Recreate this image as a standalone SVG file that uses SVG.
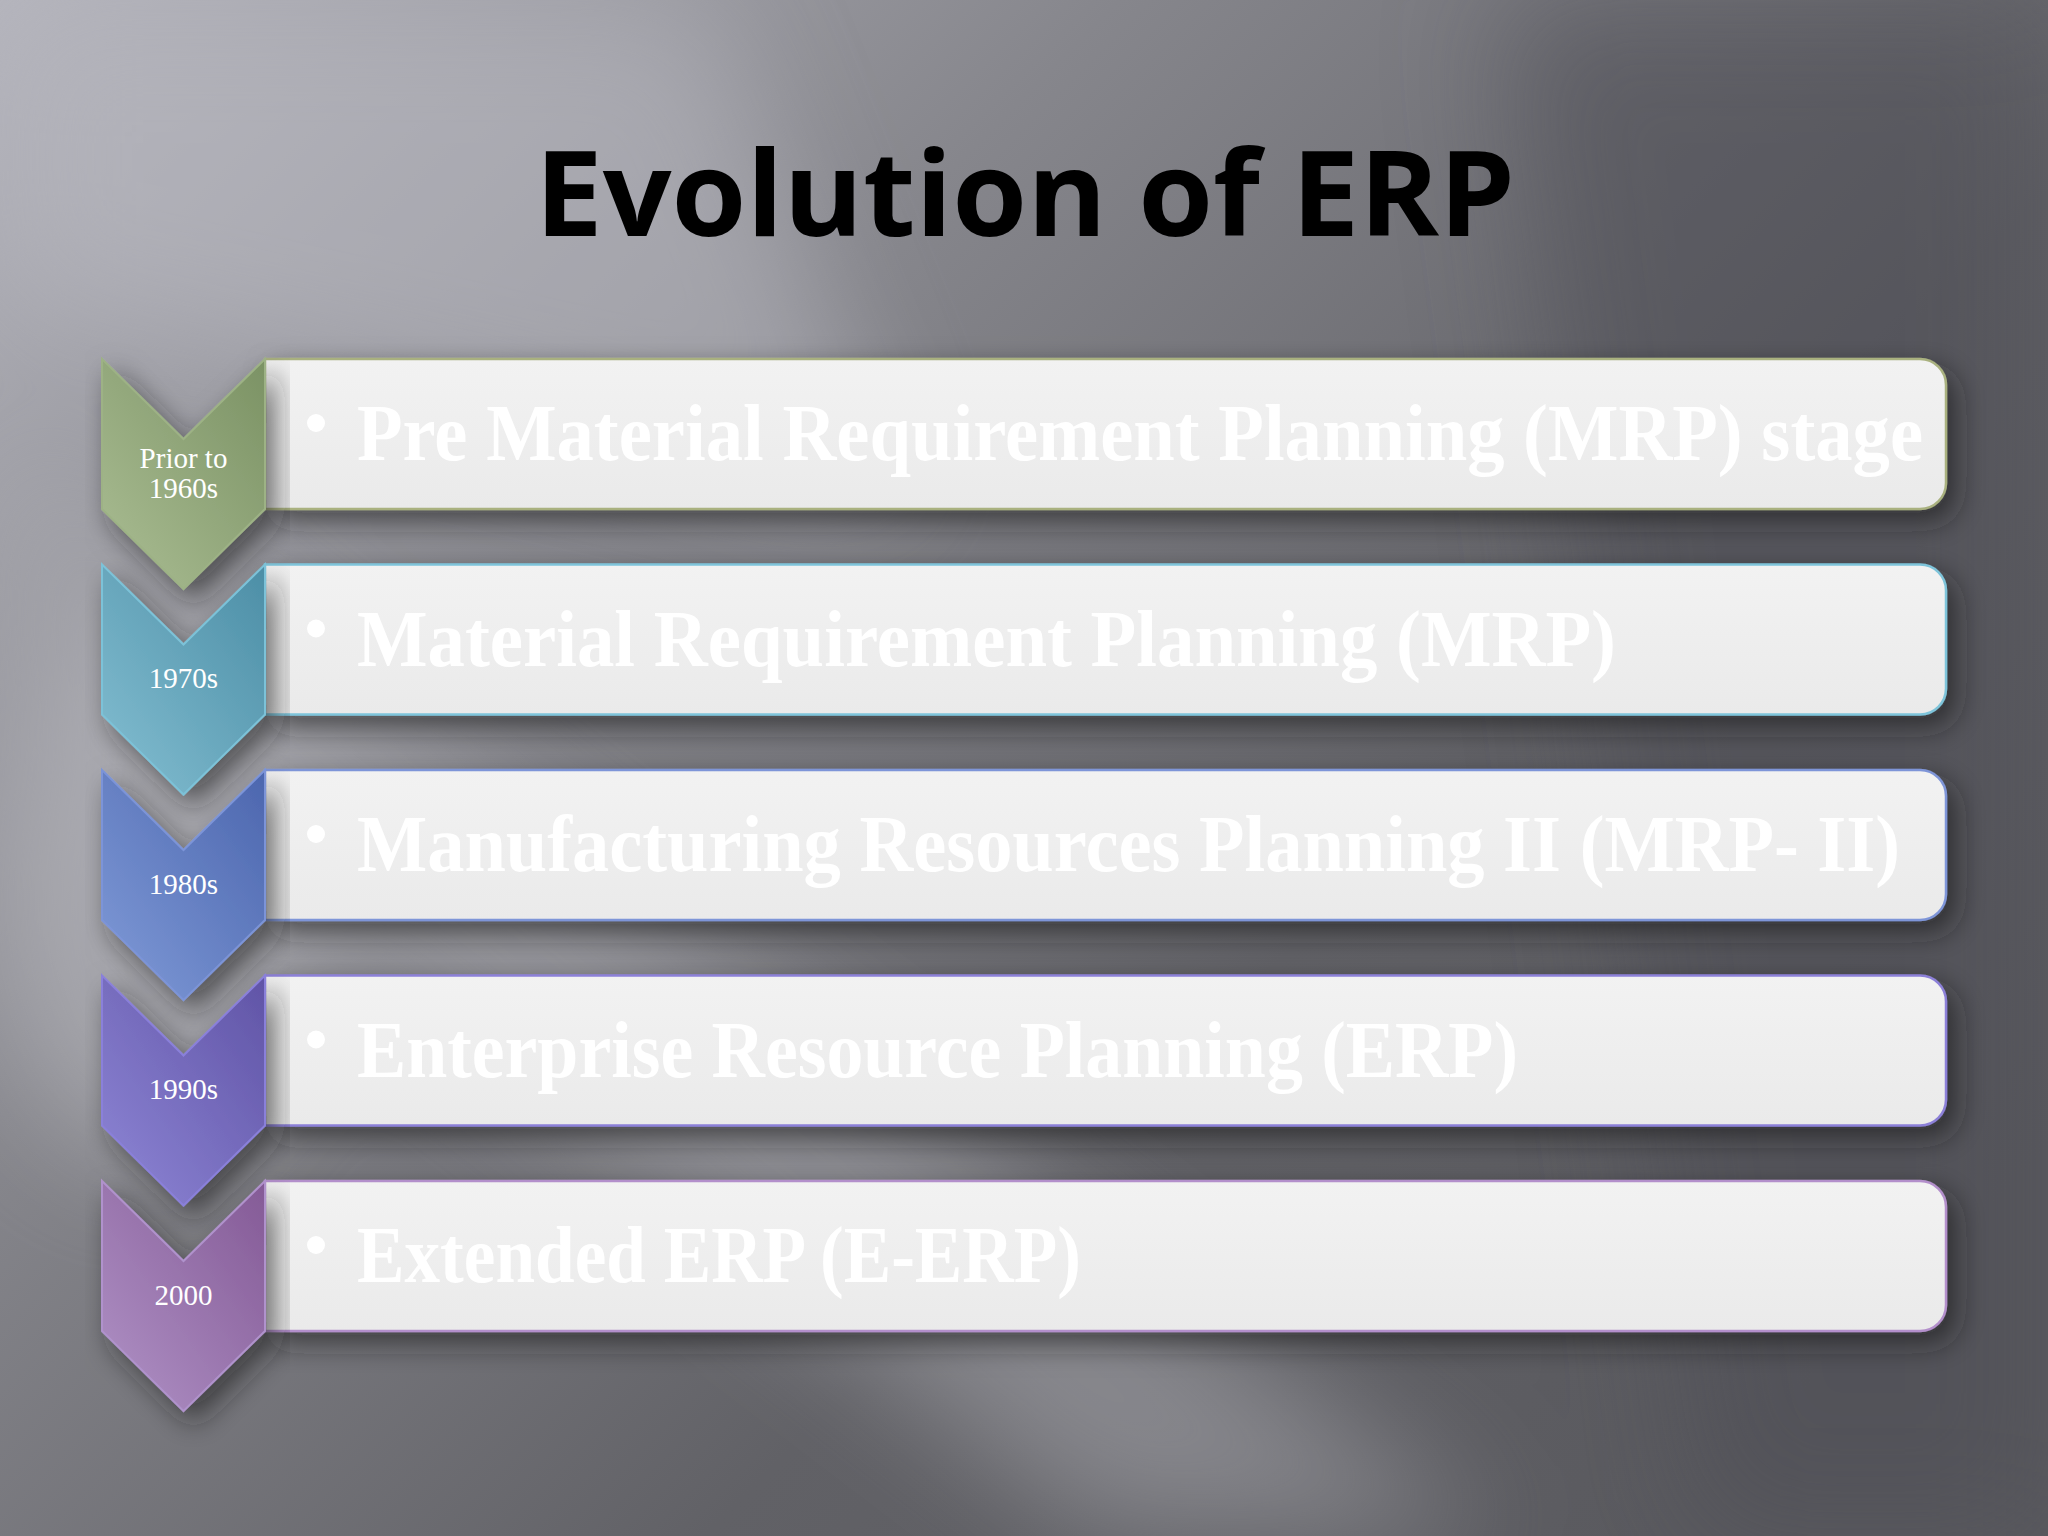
<svg xmlns="http://www.w3.org/2000/svg" width="2048" height="1536" viewBox="0 0 2048 1536">
<defs>
<linearGradient id="bg" x1="0" y1="0" x2="1" y2="0.75">
<stop offset="0" stop-color="#B4B4BC"/>
<stop offset="0.35" stop-color="#86868C"/>
<stop offset="0.7" stop-color="#616166"/>
<stop offset="1" stop-color="#5A5A5F"/>
</linearGradient>
<filter id="blur60" x="-50%" y="-50%" width="200%" height="200%"><feGaussianBlur stdDeviation="60"/></filter>
<filter id="shadow" x="-10%" y="-20%" width="125%" height="160%">
<feDropShadow dx="10" dy="12" stdDeviation="14" flood-color="#1E1E22" flood-opacity="0.6"/>
</filter>
<linearGradient id="boxfill" x1="0" y1="0" x2="0" y2="1">
<stop offset="0" stop-color="#F2F2F2"/>
<stop offset="1" stop-color="#EAEAEA"/>
</linearGradient>
<linearGradient id="c1" x1="0" y1="1" x2="1" y2="0"><stop offset="0" stop-color="#ABBE94"/><stop offset="1" stop-color="#7B9264"/></linearGradient>
<linearGradient id="c2" x1="0" y1="1" x2="1" y2="0"><stop offset="0" stop-color="#84BFD2"/><stop offset="1" stop-color="#4C8EA6"/></linearGradient>
<linearGradient id="c3" x1="0" y1="1" x2="1" y2="0"><stop offset="0" stop-color="#809BD8"/><stop offset="1" stop-color="#4C66AE"/></linearGradient>
<linearGradient id="c4" x1="0" y1="1" x2="1" y2="0"><stop offset="0" stop-color="#8E86D6"/><stop offset="1" stop-color="#6054A6"/></linearGradient>
<linearGradient id="c5" x1="0" y1="1" x2="1" y2="0"><stop offset="0" stop-color="#B092C6"/><stop offset="1" stop-color="#845A96"/></linearGradient>
</defs>
<style>
.box{fill:url(#boxfill);stroke-width:2.5;filter:url(#shadow)}
.chev{stroke-width:2;filter:url(#shadow)}
.item{font-family:"Liberation Serif","DejaVu Serif",serif;font-weight:bold;font-size:80px;fill:#FFFFFF}
.bul{fill:#FFFFFF}
.lab{font-family:"Liberation Serif","DejaVu Serif",serif;font-size:29px;fill:#FFFFFF;text-anchor:middle}
.title{font-family:"Open Sans","Noto Sans",sans-serif;font-weight:bold;font-size:118px;fill:#000000}
</style>
<rect x="0" y="0" width="2048" height="1536" fill="url(#bg)"/>
<g opacity="0.55" filter="url(#blur60)">
<polygon points="0,420 0,700 1100,1536 1500,1536" fill="#A8A8AE"/>
<polygon points="0,0 700,0 900,500 0,300" fill="#B8B8C0"/>
<polygon points="1500,0 2048,0 2048,1536 1700,1536" fill="#4E4E54"/>
<ellipse cx="150" cy="900" rx="160" ry="260" fill="#C0C0C6"/>
</g>
<text class="title" x="535" y="236" textLength="980" lengthAdjust="spacingAndGlyphs">Evolution of ERP</text>
<g id="connectors"></g>
<g id="node1">
<path class="box" stroke="#A9B17F" d="M265,359 H1920 A26,26 0 0 1 1946,385 V483 A26,26 0 0 1 1920,509 H265 Z"/>
<polygon class="chev" fill="url(#c1)" stroke="#9DB285" points="102,359 183.5,439 265,359 265,509 183.5,589 102,509"/>
<text class="lab" x="183.5" y="468">Prior to</text>
<text class="lab" x="183.5" y="498">1960s</text>
<circle class="bul" cx="316" cy="423" r="9"/>
<text class="item" x="357" y="460" textLength="1566" lengthAdjust="spacingAndGlyphs">Pre Material Requirement Planning (MRP) stage</text>
</g>
<g id="node2">
<path class="box" stroke="#7EC4DA" d="M265,564.5 H1920 A26,26 0 0 1 1946,590.5 V688.5 A26,26 0 0 1 1920,714.5 H265 Z"/>
<polygon class="chev" fill="url(#c2)" stroke="#7CC2D8" points="102,564.5 183.5,644.5 265,564.5 265,714.5 183.5,794.5 102,714.5"/>
<text class="lab" x="183.5" y="688">1970s</text>
<circle class="bul" cx="316" cy="628.5" r="9"/>
<text class="item" x="357" y="665.5" textLength="1259" lengthAdjust="spacingAndGlyphs">Material Requirement Planning (MRP)</text>
</g>
<g id="node3">
<path class="box" stroke="#7E95D8" d="M265,770 H1920 A26,26 0 0 1 1946,796 V894 A26,26 0 0 1 1920,920 H265 Z"/>
<polygon class="chev" fill="url(#c3)" stroke="#7C94D8" points="102,770 183.5,850 265,770 265,920 183.5,1000 102,920"/>
<text class="lab" x="183.5" y="894">1980s</text>
<circle class="bul" cx="316" cy="834" r="9"/>
<text class="item" x="357" y="871" textLength="1543" lengthAdjust="spacingAndGlyphs">Manufacturing Resources Planning II (MRP- II)</text>
</g>
<g id="node4">
<path class="box" stroke="#8C80D8" d="M265,975.5 H1920 A26,26 0 0 1 1946,1001.5 V1099.5 A26,26 0 0 1 1920,1125.5 H265 Z"/>
<polygon class="chev" fill="url(#c4)" stroke="#8A80DA" points="102,975.5 183.5,1055.5 265,975.5 265,1125.5 183.5,1205.5 102,1125.5"/>
<text class="lab" x="183.5" y="1099">1990s</text>
<circle class="bul" cx="316" cy="1039.5" r="9"/>
<text class="item" x="357" y="1076.5" textLength="1161" lengthAdjust="spacingAndGlyphs">Enterprise Resource Planning (ERP)</text>
</g>
<g id="node5">
<path class="box" stroke="#B38FCB" d="M265,1181 H1920 A26,26 0 0 1 1946,1207 V1305 A26,26 0 0 1 1920,1331 H265 Z"/>
<polygon class="chev" fill="url(#c5)" stroke="#B092CC" points="102,1181 183.5,1261 265,1181 265,1331 183.5,1411 102,1331"/>
<text class="lab" x="183.5" y="1305">2000</text>
<circle class="bul" cx="316" cy="1245" r="9"/>
<text class="item" x="357" y="1282" textLength="724" lengthAdjust="spacingAndGlyphs">Extended ERP (E-ERP)</text>
</g>
</svg>
